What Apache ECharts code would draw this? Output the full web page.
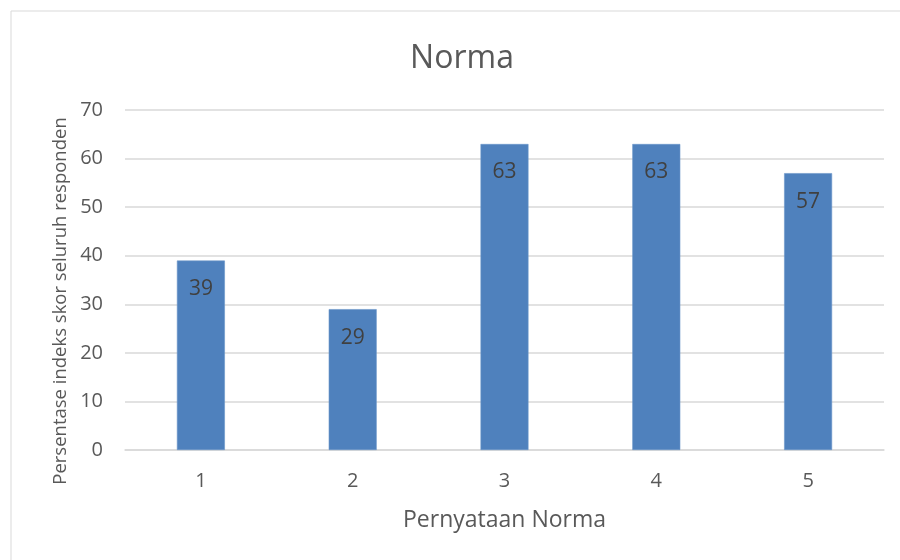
<!DOCTYPE html>
<html>
<head>
<meta charset="utf-8">
<script src="https://cdn.jsdelivr.net/npm/echarts@6/dist/echarts.min.js"></script>
<style>
  html, body { margin: 0; padding: 0; background: #fff; }
  #chart { width: 900px; height: 560px; }
</style>
</head>
<body>
<div id="chart"></div>
<script>
// Statement numbers and their index scores (%)
const categories = ['1', '2', '3', '4', '5'];
const scores = [39, 29, 63, 63, 57];
const yTicks = [0, 10, 20, 30, 40, 50, 60, 70];

const titleText = 'Norma';
const xName = 'Pernyataan Norma';
const yName = 'Persentase indeks skor seluruh responden';

const FONT = '"Open Sans", "Liberation Sans", sans-serif';
const TEXT = '#595959';

const chart = echarts.init(document.getElementById('chart'), null, { renderer: 'canvas' });

chart.setOption({
  backgroundColor: '#ffffff',
  animation: false,
  title: {
    text: titleText,
    left: 457,
    textAlign: 'center',
    top: 38,
    textStyle: { fontFamily: FONT, fontSize: 32, fontWeight: 'normal', color: TEXT }
  },
  grid: { left: 125, right: 16, top: 110, bottom: 110, containLabel: false },
  xAxis: {
    type: 'category',
    data: categories,
    axisLine: { show: true, lineStyle: { color: '#d9d9d9', width: 1.5 } },
    axisTick: { show: false },
    axisLabel: { margin: 21, fontFamily: FONT, fontSize: 20, color: TEXT },
    name: xName,
    nameLocation: 'middle',
    nameGap: 59,
    nameTextStyle: { fontFamily: FONT, fontSize: 23, color: TEXT }
  },
  yAxis: {
    type: 'value',
    min: yTicks[0],
    max: yTicks[yTicks.length - 1],
    interval: 10,
    axisLine: { show: false },
    axisTick: { show: false },
    splitLine: { lineStyle: { color: '#d9d9d9', width: 1.5 } },
    axisLabel: { margin: 22, fontFamily: FONT, fontSize: 20, color: TEXT }
  },
  series: [{
    type: 'bar',
    data: scores,
    barWidth: '31.6%',
    itemStyle: { color: '#4f81bd', borderColor: '#6a95c9', borderWidth: 0.6 },
    label: {
      show: true,
      position: 'insideTop',
      distance: 18,
      fontFamily: FONT,
      fontSize: 21,
      color: '#404040'
    }
  }],
  graphic: [
    {
      type: 'rect',
      shape: { x: 11, y: 11, width: 900, height: 560 },
      style: { fill: 'none', stroke: '#d9d9d9', lineWidth: 1 },
      z: -1
    },
    {
      type: 'text',
      x: 61,
      y: 301,
      rotation: Math.PI / 2,
      style: {
        text: yName,
        fontFamily: FONT,
        fontSize: 18.5,
        fill: TEXT,
        align: 'center',
        verticalAlign: 'middle'
      }
    }
  ]
});
</script>
</body>
</html>
